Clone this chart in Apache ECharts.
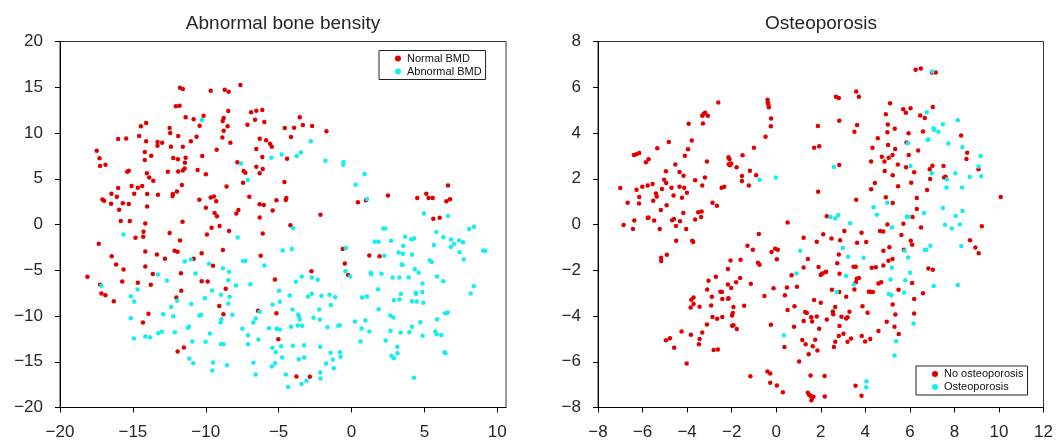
<!DOCTYPE html>
<html>
<head>
<meta charset="utf-8">
<script src="https://cdn.jsdelivr.net/npm/echarts@6/dist/echarts.min.js"></script>
<style>
  html, body { margin: 0; padding: 0; background: #fff; }
  #main { width: 1056px; height: 442px; }
</style>
</head>
<body>
<div id="main"></div>
<script>
// left panel: bone density groups
var normalBMD = [
  [-17.48,8.07],[-17.29,7.23],[-17.25,6.39],[-16.88,6.53],[-16.01,9.34],[-15.46,9.41],[-14.45,10.73],[-14.09,11.09],[-14.57,9.67],[-14.09,9.09],
  [-14.18,7.92],[-13.74,7.52],[-14.18,7.04],[-15.28,5.88],[-15.39,5.77],[-14.04,5.59],[-13.88,5.15],[-13.6,4.78],[-16.01,3.98],[-15.09,4.2],
  [-14.66,4.02],[-14.36,4.2],[-17.09,2.74],[-16.97,2.6],[-16.47,3.36],[-16.1,3.04],[-15.69,2.31],[-15.28,2.23],[-14.91,3.36],[-14.02,3.33],
  [-13.28,3.25],[-16.49,2.27],[-15.94,1.61],[-14.02,1.98],[-15.83,0.37],[-15.21,0.37],[-14.15,0.12],[-11.59,0.3],[-13.31,9.01],[-12.99,8.94],
  [-13.31,8.61],[-12.48,10.54],[-12.44,10.0],[-12.39,8.5],[-12.23,7.26],[-11.91,7.12],[-11.89,9.67],[-11.57,8.5],[-11.38,11.71],[-12.05,12.91],
  [-11.8,12.99],[-11.77,14.95],[-11.57,14.81],[-10.83,11.49],[-10.42,10.8],[-10.15,11.89],[-11.02,9.09],[-10.63,9.6],[-11.38,7.3],[-11.43,6.75],
  [-11.45,6.13],[-11.57,5.9],[-11.89,5.8],[-12.6,5.77],[-10.56,5.95],[-10.24,7.48],[-11.64,4.31],[-11.98,3.62],[-12.25,3.33],[-12.28,3.11],
  [-10.44,2.71],[-9.66,14.63],[-8.7,14.73],[-8.43,14.52],[-7.62,15.25],[-8.45,12.4],[-8.77,11.64],[-8.84,11.31],[-8.5,10.73],[-8.77,10.25],
  [-8.86,9.52],[-8.31,8.94],[-9.25,8.17],[-9.99,5.48],[-9.66,2.96],[-9.44,3.07],[-9.28,2.53],[-9.99,1.84],[-9.39,1.25],[-9.23,0.89],
  [-9.6,-0.35],[-9.05,-0.17],[-8.57,4.16],[-7.9,1.21],[-7.76,1.58],[-7.83,6.79],[-7.4,5.84],[-7.28,5.66],[-7.44,4.57],[-7.01,3.04],
  [-7.14,10.91],[-6.89,12.26],[-6.53,12.44],[-6.62,11.46],[-6.3,9.38],[-6.53,8.25],[-6.53,6.32],[-6.3,5.59],[-6.3,2.2],[-6.3,0.77],
  [-6.12,12.51],[-5.98,11.2],[-3.55,11.71],[-3.34,10.87],[-2.7,10.76],[-4.58,10.54],[-3.94,10.58],[-1.72,10.18],[-4.15,9.56],[-5.86,9.2],
  [-5.59,8.83],[-5.47,8.5],[-4.42,7.19],[-6.12,7.37],[-6.09,6.06],[-4.6,4.64],[2.5,3.18],[0.44,2.42],[0.99,2.64],[4.51,2.89],
  [5.13,3.36],[5.29,2.89],[5.57,2.89],[6.62,4.27],[6.76,2.75],[6.51,2.53],[5.61,0.63],[6.05,0.74],[-5.15,2.64],[-4.51,2.67],
  [-4.47,2.89],[-6.02,2.12],[-5.41,1.54],[-2.13,1.06],
  [-14.82,-1.45],[-14.29,-1.34],[-14.27,-0.8],[-17.34,-2.11],[-16.45,-3.46],[-16.15,-4.37],[-15.64,-4.91],[-18.12,-5.72],[-17.25,-6.59],[-17.16,-7.54],
  [-16.88,-7.72],[-16.31,-8.38],[-15.73,-6.23],[-14.66,-6.37],[-14.15,-2.95],[-14.15,-4.59],[-13.63,-5.42],[-13.77,-6.59],[-13.35,-3.27],[-12.8,-3.75],
  [-12.48,-0.94],[-11.77,-1.74],[-12.14,-2.87],[-11.93,-2.98],[-10.83,-3.75],[-11.7,-5.32],[-10.28,-3.13],[-9.92,-1.09],[-8.4,-0.72],[-8.82,-2.8],
  [-9.5,-4.51],[-10.28,-6.19],[-9.87,-6.23],[-8.63,-7.03],[-11.68,-7.25],[-12.02,-7.98],[-9.07,-8.92],[-13.93,-9.76],[-8.79,-9.8],[-14.31,-10.71],
  [-6.41,-9.43],[-11.5,-13.44],[-11.93,-13.88],
  [-4.19,-0.07],[-6.09,-0.98],[-6.23,-3.42],[-5.25,-6.01],[-2.75,-5.1],[-5.15,-9.69],[-5.02,-12.53],[-3.78,-16.61],[-2.86,-16.65],[-0.6,-2.69],
  [-0.46,-4.26],[-0.23,-5.53],[1.22,-3.38],[1.93,-3.46]
];
var abnormalBMD = [
  [-10.26,11.42],[-7.58,6.68],[-7.12,4.86],
  [-2.79,9.09],[-5.5,7.3],[-4.79,7.66],[-3.76,7.48],[-3.48,7.88],[-1.79,6.97],[-0.55,6.83],[-0.57,6.53],[0.9,5.51],[0.28,4.35],
  [1.06,2.78],[4.97,1.21],[6.62,0.92],
  [-15.64,-1.09],[-17.16,-6.7],[-14.68,-7.1],[-13.28,-5.46],[-11.43,-4.04],[-11.02,-3.82],[-12.67,-6.12],[-10.7,-5.35],[-7.81,-1.42],[-9.78,-4.3],
  [-8.82,-4.77],[-8.4,-5.17],[-7.44,-4.0],[-7.28,-3.97],[-9.57,-7.21],[-8.45,-6.08],[-7.92,-6.66],[-6.94,-6.52],[-8.95,-7.68],[-8.36,-7.9],
  [-8.45,-8.63],[-11.96,-8.34],[-15.14,-7.83],[-14.91,-8.41],[-12.37,-9.03],[-10.99,-8.7],[-10.05,-8.05],[-12.92,-9.8],[-12.23,-10.02],[-10.44,-9.94],
  [-10.31,-9.87],[-8.17,-9.87],[-15.14,-10.24],[-8.93,-10.35],[-8.98,-10.71],[-7.49,-11.4],[-6.3,-9.54],[-6.57,-10.27],[-6.73,-10.71],[-7.1,-12.1],
  [-6.39,-12.57],[-7.1,-13.08],[-11.22,-11.29],[-11.15,-11.15],[-12.12,-11.77],[-13.26,-11.88],[-13.01,-11.73],[-14.15,-12.24],[-13.83,-12.31],[-14.93,-12.46],
  [-9.71,-11.91],[-10.92,-12.79],[-10.01,-12.82],[-8.95,-13.08],[-8.79,-13.08],[-11.13,-14.65],[-10.86,-15.16],[-9.5,-15.08],[-9.55,-15.96],[-8.54,-15.38],
  [-6.73,-15.12],[-6.57,-16.4],
  [-4.01,-0.39],[-5.98,-4.48],[-4.72,-2.84],[-4.1,-2.69],[-4.97,-7.25],[-3.82,-6.26],[-3.41,-5.68],[-2.72,-5.79],[-2.31,-6.04],[-4.92,-8.45],
  [-5.41,-8.74],[-4.24,-7.76],[-2.98,-7.87],[-2.72,-7.58],[-2.06,-7.79],[-1.51,-7.68],[-1.12,-7.94],[-1.42,-8.81],[-4.05,-9.29],[-3.66,-9.84],
  [-3.6,-10.09],[-3.55,-10.38],[-2.22,-9.29],[-2.61,-10.2],[-2.17,-10.38],[-4.15,-11.18],[-3.69,-11.04],[-3.39,-11.07],[-5.66,-11.33],[-5.15,-11.4],
  [-4.92,-11.48],[-1.65,-11.22],[-0.91,-11.07],[-0.8,-11.0],[-5.43,-13.48],[-5.2,-13.95],[-4.83,-13.3],[-4.03,-13.26],[-3.25,-13.19],[-2.15,-13.37],
  [-1.44,-14.03],[-0.8,-13.95],[-4.76,-14.54],[-3.62,-14.72],[-3.25,-14.54],[-1.28,-14.76],[-0.75,-14.46],[-1.74,-15.19],[-1.21,-15.7],[-5.25,-15.16],
  [-5.47,-15.52],[-4.51,-16.4],[-4.35,-17.75],[-3.43,-17.42],[-3.09,-17.09],[-2.15,-16.18],[-2.13,-16.83],[-0.39,-2.58],[-0.41,-5.1],[-0.09,-5.68],
  [2.25,-3.42],[2.18,-0.43],[2.32,-0.43],[1.6,-1.89],[1.86,-1.89],[1.31,-5.28],[1.35,-5.42],[2.06,-5.39],[2.71,-1.78],[3.23,-3.06],
  [3.53,-3.2],[3.69,-1.34],[3.55,-2.33],[4.1,-1.6],[4.29,-1.52],[4.15,-3.31],[4.35,-4.88],[4.6,-5.28],[3.44,-4.37],[3.5,-4.42],
  [2.82,-5.79],[3.28,-5.79],[3.92,-5.79],[4.88,-6.45],[1.83,-7.07],[0.73,-7.98],[1.06,-7.87],[2.91,-8.27],[3.28,-8.2],[3.39,-7.58],
  [4.15,-8.38],[4.4,-7.45],[4.42,-7.6],[4.47,-8.41],[4.86,-7.39],[4.93,-8.56],[5.82,-0.83],[5.66,-2.25],[6.3,-1.38],[6.83,-1.63],
  [7.03,-2.14],[6.81,-2.47],[7.38,-1.74],[7.65,-1.93],[7.42,-3.02],[7.7,-3.82],[8.07,-0.5],[8.41,-0.25],[9.03,-2.84],[9.19,-2.87],
  [5.36,-3.93],[5.5,-4.1],[5.87,-5.68],[6.3,-6.19],[8.39,-6.74],[8.18,-7.54],[0.23,-10.6],[0.96,-10.49],[0.69,-11.37],[1.22,-11.69],
  [0.62,-12.79],[1.86,-9.25],[2.66,-9.95],[2.87,-10.16],[2.34,-12.68],[2.68,-11.62],[3.37,-11.8],[3.14,-13.37],[3.16,-14.06],[2.73,-14.35],
  [2.91,-14.61],[3.97,-11.77],[4.15,-11.18],[4.72,-10.67],[4.88,-12.17],[4.29,-16.76],[5.87,-10.35],[5.75,-11.69],[5.84,-11.99],[6.16,-12.09],
  [6.42,-9.69],[6.6,-9.62],[6.37,-13.95],[6.44,-14.06]
];

// right panel: osteoporosis groups
var noOsteo = [
  [-7.0,1.6],[-6.67,0.95],[-6.85,-0.02],[-6.37,0.17],[-6.43,-0.2],[-6.39,3.04],[-6.28,3.07],[-6.15,3.13],[-6.27,1.52],[-6.15,1.2],
  [-6.16,0.92],[-6.01,1.65],[-5.85,2.72],[-5.73,2.85],[-5.77,1.7],[-5.55,1.77],[-5.77,0.28],[-5.73,0.31],[-5.48,0.18],[-5.52,1.04],
  [-5.4,1.36],[-5.36,1.22],[-5.34,3.33],[-5.23,-0.2],[-5.18,0.63],[-5.13,1.55],[-5.03,1.96],[-4.94,1.81],[-4.95,2.33],[-4.82,3.61],
  [-4.92,0.84],[-4.7,1.61],[-4.61,1.27],[-4.67,0.19],[-4.59,0.24],[-4.53,2.62],[-4.5,-0.07],[-4.34,2.3],[-4.34,1.65],[-4.32,0.14],
  [-4.16,2.13],[-4.1,3.01],[-4.13,1.61],[-4.23,1.17],[-4.17,0.5],[-4.04,-0.2],[-4.01,1.39],[-3.96,3.29],[-3.93,4.4],[-3.79,3.67],
  [-3.64,1.93],[-3.64,0.22],[-3.5,0.54],[-3.35,0.57],[-3.37,0.33],[-3.32,1.7],[-3.2,2.05],[-3.29,4.41],[-3.32,4.75],[-3.26,4.83],
  [-3.19,4.89],[-3.07,4.75],[-3.11,2.75],[-2.6,5.33],[-2.86,0.95],[-2.66,0.82],[-2.45,1.61],[-2.33,1.65],[-2.14,2.94],[-2.1,2.85],
  [-2.13,2.63],[-2.02,2.67],[-2.08,2.59],[-1.78,2.5],[-1.51,3.03],[-1.54,2.12],[-1.54,1.9],[-1.23,1.71],[-1.18,2.35],[-1.0,3.36],
  [-0.9,2.15],[-0.48,3.84],[-0.24,4.29],[-0.23,4.63],[-0.39,5.45],[-0.38,5.33],[-0.35,5.23],[-0.33,5.13],[0.51,0.09],
  [6.26,6.76],[6.49,6.82],[6.99,6.64],[7.16,6.64],[2.68,5.58],[2.81,5.53],[3.59,5.81],[3.71,5.59],[5.11,5.3],[5.7,5.04],
  [5.82,4.88],[6.03,5.08],[4.92,4.82],[7.03,5.14],[6.46,4.76],[6.67,4.66],[2.83,4.54],[1.87,4.31],[3.63,4.35],[3.51,4.05],
  [5.01,4.37],[5.32,4.19],[4.99,4.03],[4.56,3.77],[5.94,3.99],[6.59,4.07],[5.85,3.58],[8.3,3.89],[1.7,3.35],[1.93,3.42],
  [4.32,3.36],[5.02,3.48],[5.34,3.3],[6.37,3.24],[8.57,3.14],[8.54,2.86],[4.74,2.96],[5.05,2.92],[5.22,3.04],[5.95,3.04],
  [4.26,2.75],[4.86,2.75],[2.83,2.6],[5.46,2.62],[5.83,2.5],[7.01,2.57],[7.51,2.56],[6.89,2.41],[6.19,2.28],[4.87,2.34],
  [5.23,2.15],[7.6,2.09],[7.54,2.06],[9.08,2.41],[6.91,1.99],[1.88,1.43],[4.43,1.81],[4.26,1.54],[5.47,1.67],[6.06,1.83],
  [6.77,1.51],[10.08,1.2],[3.59,1.08],[4.92,1.19],[6.31,1.16],[5.23,0.94],[6.31,0.68],[6.12,0.33],[2.27,0.36],[4.99,0.0],
  [5.71,0.03],[6.5,-0.13],[9.23,-0.08],
  [-4.91,-1.32],[-5.17,-1.45],[-5.16,-1.6],[-4.49,-0.71],[-3.77,-0.71],[-3.73,-0.77],[-1.29,-0.93],[-1.05,-1.1],[-0.78,-0.42],[-0.82,-1.67],
  [-0.75,-1.76],[-0.21,-1.2],[-0.05,-1.06],[0.07,-1.1],[0.03,-1.52],[-2.05,-1.57],[-1.6,-1.54],[-2.17,-1.95],[-2.71,-2.28],[-3.04,-2.46],
  [-1.62,-2.34],[-1.8,-2.52],[-2.17,-2.62],[-1.14,-2.59],[-2.02,-2.78],[-3.1,-2.84],[-2.51,-2.94],[-2.44,-2.95],[-2.89,-3.16],[-2.42,-3.26],
  [-2.15,-3.22],[-2.15,-3.25],[-0.53,-3.13],[-3.71,-3.19],[-3.81,-3.29],[-3.71,-3.48],[-3.84,-3.63],[-3.44,-3.6],[-2.92,-3.54],[-1.92,-3.61],
  [-1.44,-3.55],[-1.95,-3.87],[-1.98,-3.98],[-2.86,-4.04],[-2.65,-4.12],[-2.42,-4.04],[-1.92,-4.4],[-1.98,-4.43],[-1.77,-4.57],[-3.11,-4.37],
  [-3.32,-4.72],[-4.25,-4.68],[-3.83,-4.82],[-4.77,-4.97],[-4.95,-5.06],[-3.44,-5.0],[-3.47,-5.24],[-4.58,-5.39],[-2.81,-5.49],[-2.62,-5.46],
  [-4.02,-6.08],[-0.24,-4.38],[0.37,-5.35],[-1.16,-6.63],[-0.39,-6.43],[-0.27,-6.51],[-0.27,-6.92],[0.03,-7.04],[0.3,-7.33],[-0.12,-2.79],
  [0.39,-3.09],[0.48,-2.75],[0.51,-3.74],[0.69,-2.22],[0.93,-2.72],[0.82,-3.57],[0.8,-4.47],[1.03,-5.99],
  [1.23,-0.58],[2.11,-0.43],[2.48,-0.61],[1.82,-0.75],[2.87,-0.69],[3.06,-0.28],[3.83,-0.36],[3.63,-0.8],[4.04,-0.77],[4.66,-0.28],
  [4.8,-0.31],[5.62,-0.46],[6.04,-0.71],[6.1,-0.88],[5.08,-0.99],[4.81,-1.15],[2.81,-1.31],[5.73,-1.1],[8.7,-0.69],[8.94,-1.01],
  [9.09,-1.26],[1.42,-1.51],[1.23,-1.88],[1.9,-1.86],[2.0,-2.21],[2.06,-2.14],[2.2,-2.09],[2.24,-2.07],[2.74,-1.69],[2.84,-2.15],
  [3.47,-1.85],[3.57,-1.85],[3.62,-2.37],[3.71,-2.34],[3.57,-2.52],[3.51,-2.84],[4.29,-1.89],[4.47,-1.87],[4.81,-1.79],[5.04,-1.58],
  [5.22,-1.51],[4.59,-2.58],[4.71,-2.53],[5.49,-2.85],[6.1,-2.56],[6.19,-3.26],[6.59,-3.0],[6.83,-1.92],[7.03,-1.98],[6.19,-3.89],
  [5.35,-3.93],[5.23,-3.5],[5.31,-4.47],[5.5,-4.79],[4.96,-4.25],[4.59,-4.66],[2.5,-2.85],[2.83,-2.95],[3.14,-3.16],[3.87,-3.57],
  [4.1,-3.86],[4.16,-2.94],[4.23,-2.94],[4.34,-2.95],[3.29,-3.81],[3.2,-4.06],[3.14,-4.11],[2.93,-4.03],[2.65,-3.61],[2.54,-3.8],
  [2.56,-3.92],[1.7,-3.3],[2.0,-3.42],[1.3,-3.82],[1.37,-3.87],[1.57,-4.06],[1.82,-4.02],[1.61,-4.24],[1.23,-4.22],[2.27,-4.15],
  [1.93,-4.56],[2.84,-4.44],[3.02,-4.78],[2.81,-4.87],[3.36,-4.98],[3.2,-5.13],[3.84,-4.87],[3.99,-5.11],[4.22,-5.01],[1.17,-5.05],
  [1.32,-5.23],[1.75,-5.04],[1.64,-5.32],[1.85,-5.51],[1.46,-5.67],[2.65,-5.13],[2.59,-5.36],[1.54,-6.6],[2.17,-6.62],[1.42,-7.36],
  [1.48,-7.45],[1.55,-7.49],[1.61,-7.57],[1.58,-7.68],[1.67,-7.53],[2.18,-7.52],[3.56,-7.05],[3.83,-7.49]
];
var osteo = [
  [-0.75,1.96],[-0.02,2.06],
  [7.01,6.69],[6.76,4.91],[7.48,4.38],[8.15,4.56],[7.06,4.21],[7.09,4.13],[7.28,4.05],[6.83,3.72],[6.79,3.7],[5.91,3.55],
  [7.72,3.54],[8.36,3.38],[9.18,2.99],[2.59,2.51],[6.03,2.56],[6.98,2.24],[7.66,1.97],[8.04,2.24],[8.69,2.08],[9.09,2.54],
  [9.2,2.11],[7.64,1.62],[8.34,1.62],[4.98,0.95],[4.37,0.75],[7.48,0.72],[8.36,0.59],[6.64,0.5],[4.52,0.43],[5.86,0.34],
  [5.95,0.34],[8.06,0.37],[2.44,0.33],[2.65,0.27],[2.78,0.4],[3.32,0.06],[5.19,-0.13],[7.58,-0.01],[8.24,0.0],[7.88,-0.18],
  [0.34,-4.84],[0.91,-2.14],[1.08,-1.15],
  [2.99,-1.03],[3.23,-1.41],[3.92,-1.45],[5.77,-1.15],[6.67,-1.1],[6.74,-1.1],[6.92,-0.93],[8.31,-0.94],[5.92,-1.44],[3.14,-2.25],
  [3.48,-2.62],[5.19,-1.89],[5.13,-2.4],[5.05,-3.04],[5.17,-3.09],[5.74,-2.97],[5.79,-2.44],[6.01,-2.11],[7.07,-2.69],[8.15,-2.65],
  [6.16,-4.33],[5.38,-5.1],[5.31,-5.73],[2.72,-2.95],[4.05,-6.85],[4.04,-7.11]
];

var leftXTicks = [-20, -15, -10, -5, 0, 5, 10];
var leftYTicks = [-20, -15, -10, -5, 0, 5, 10, 15, 20];
var rightXTicks = [-8, -6, -4, -2, 0, 2, 4, 6, 8, 10, 12];
var rightYTicks = [-8, -6, -4, -2, 0, 2, 4, 6, 8];

var FONT = '"Liberation Sans", Arial, Helvetica, sans-serif';
var RED = '#e00000';
var CYAN = '#14eeee';

function minusSign(v) {
  return String(v).replace('-', '\u2212');
}

function makeAxis(grid, min, max, step, ticks, margin) {
  return {
    type: 'value',
    gridIndex: grid,
    min: min,
    max: max,
    interval: step,
    axisLine: { show: true, onZero: false, lineStyle: { color: '#000', width: 1 } },
    axisTick: { show: true, inside: false, length: 5, customValues: ticks, lineStyle: { color: '#000' } },
    axisLabel: { customValues: ticks, formatter: minusSign, fontSize: 17, color: '#262626', fontFamily: FONT, margin: margin },
    splitLine: { show: false }
  };
}

function dots(name, data, color, idx) {
  return {
    name: name,
    type: 'scatter',
    xAxisIndex: idx,
    yAxisIndex: idx,
    data: data,
    symbol: 'circle',
    symbolSize: 4.5,
    itemStyle: { color: color, opacity: 1 },
    emphasis: { disabled: true },
    animation: false
  };
}

var chart = echarts.init(document.getElementById('main'), null, { renderer: 'canvas' });
chart.setOption({
  backgroundColor: '#fff',
  animation: false,
  title: [
    { text: 'Abnormal bone bensity', left: 283, top: 14, textAlign: 'center', padding: 0,
      textStyle: { fontSize: 19, fontWeight: 'normal', color: '#262626', fontFamily: FONT } },
    { text: 'Osteoporosis', left: 821, top: 14, textAlign: 'center', padding: 0,
      textStyle: { fontSize: 19, fontWeight: 'normal', color: '#262626', fontFamily: FONT } }
  ],
  legend: [
    { data: ['Normal BMD', 'Abnormal BMD'], left: 379, top: 50.5, orient: 'vertical',
      icon: 'circle', itemWidth: 8, itemHeight: 6, itemGap: 1, padding: [2, 4, 2, 16],
      borderColor: '#222', borderWidth: 1, backgroundColor: '#fff', selectedMode: false,
      textStyle: { fontSize: 11, lineHeight: 12, color: '#111', fontFamily: FONT } },
    { data: ['No osteoporosis', 'Osteoporosis'], left: 916, top: 366, orient: 'vertical',
      icon: 'circle', itemWidth: 8, itemHeight: 6, itemGap: 1, padding: [2, 4, 2, 16],
      borderColor: '#222', borderWidth: 1, backgroundColor: '#fff', selectedMode: false,
      textStyle: { fontSize: 11, lineHeight: 12, color: '#111', fontFamily: FONT } }
  ],
  grid: [
    { left: 60, top: 41.5, width: 446, height: 366, show: true, borderColor: '#333', borderWidth: 1 },
    { left: 598, top: 41.5, width: 446, height: 366, show: true, borderColor: '#333', borderWidth: 1 }
  ],
  xAxis: [
    makeAxis(0, -20, 10.6, 5, leftXTicks, 16),
    makeAxis(1, -8, 12, 2, rightXTicks, 16)
  ],
  yAxis: [
    makeAxis(0, -20, 20, 5, leftYTicks, 17),
    makeAxis(1, -8, 8, 2, rightYTicks, 17)
  ],
  series: [
    dots('Normal BMD', normalBMD, RED, 0),
    dots('Abnormal BMD', abnormalBMD, CYAN, 0),
    dots('No osteoporosis', noOsteo, RED, 1),
    dots('Osteoporosis', osteo, CYAN, 1)
  ]
});
</script>
</body>
</html>
